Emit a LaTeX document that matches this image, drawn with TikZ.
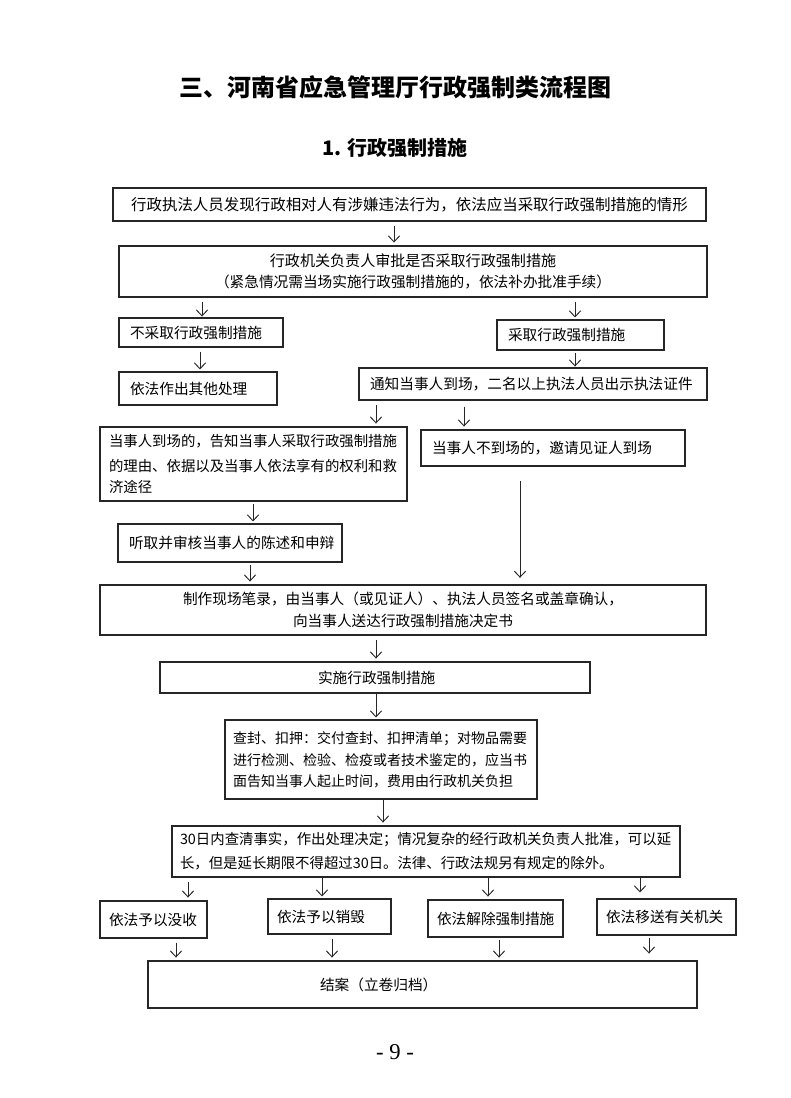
\documentclass[tikz,border=0pt]{standalone}
\usepackage{fontspec}
\setmainfont{Noto Sans CJK SC}
\newfontfamily\numfont{Liberation Serif}
\usetikzlibrary{arrows.meta}
\newcommand\cbox[6]{%
\pgfmathsetmacro\bw{(#4-#2)*0.75}%
\pgfmathsetmacro\bh{(#5-#3)*0.75}%
\node[box, align=center, minimum width=\bw pt, minimum height=\bh pt] (#1) at ({(#2+#4)/2},{(#3+#5)/2}) {#6};}
\newcommand\lbox[7]{%
\pgfmathsetmacro\bw{(#4-#2-2*#6)*0.75}%
\pgfmathsetmacro\bh{(#5-#3)*0.75}%
\pgfmathsetmacro\bi{#6*0.75}%
\node[box, align=left, inner xsep=\bi pt, text width=\bw pt, minimum height=\bh pt] (#1) at ({(#2+#4)/2},{(#3+#5)/2}) {#7};}
\newcommand\conn[5]{\draw[arr, shorten <=#4pt, shorten >=#5pt] (#1.south -| #3,0) -- (#2.north -| #3,0);}
\begin{document}
\begin{tikzpicture}[x=0.75pt,y=-0.75pt,
  box/.style={draw=black!85, line width=0.8pt, inner ysep=0pt, font=\fontsize{11pt}{16pt}\selectfont},
  arr/.style={draw=black!85, line width=0.7pt, -{Straight Barb[length=4.5pt,width=8.5pt]}}]
\useasboundingbox[fill=white] (0,0) rectangle (790,1098);
\node[font=\fontsize{18pt}{20pt}\selectfont\bfseries] (title) at (395,87) {三、河南省应急管理厅行政强制类流程图};
\node[font=\fontsize{15pt}{18pt}\selectfont\bfseries] (sub) at (395,148) {1. 行政强制措施};

\cbox{b1}{113}{188}{706}{221}{\fontsize{11.6pt}{16pt}\selectfont 行政执法人员发现行政相对人有涉嫌违法行为，依法应当采取行政强制措施的情形}
\cbox{b2}{119}{246}{707}{297}{\fontsize{11.3pt}{16pt}\selectfont 行政机关负责人审批是否采取行政强制措施\\（紧急情况需当场实施行政强制措施的，依法补办批准手续）}
\lbox{b3}{119}{318}{283}{347}{11}{不采取行政强制措施}
\lbox{b4}{497}{320}{664}{350}{11}{采取行政强制措施}
\lbox{b5}{119}{372}{277}{405}{11}{依法作出其他处理}
\lbox{b6}{359}{368}{707}{400}{11}{通知当事人到场，二名以上执法人员出示执法证件}
\lbox{b7}{100}{427}{407}{501}{9}{\fontsize{10.8pt}{19pt}\selectfont 当事人到场的，告知当事人采取行政强制措施\\的理由、依据以及当事人依法享有的权利和救\\济途径}
\lbox{b8}{421}{430}{685}{466}{11}{当事人不到场的，邀请见证人到场}
\lbox{b9}{118}{524}{342}{562}{11}{听取并审核当事人的陈述和申辩}
\cbox{b10}{100}{585}{706}{635}{制作现场笔录，由当事人（或见证人）、执法人员签名或盖章确认，\\[1pt]向当事人送达行政强制措施决定书}
\lbox{b11}{160}{662}{590}{693}{158}{实施行政强制措施}
\lbox{b12}{225}{720}{537}{799}{8}{\fontsize{10.5pt}{16.5pt}\selectfont 查封、扣押：交付查封、扣押清单；对物品需要\\进行检测、检验、检疫或者技术鉴定的，应当书\\面告知当事人起止时间，费用由行政机关负担}
\lbox{b13}{172}{826}{680}{877}{8}{\fontsize{10.8pt}{18pt}\selectfont 30日内查清事实，作出处理决定；情况复杂的经行政机关负责人批准，可以延\\[2pt]长，但是延长期限不得超过30日。法律、行政法规另有规定的除外。}
\lbox{b14}{100}{901}{207}{938}{9}{依法予以没收}
\lbox{b15}{268}{899}{391}{934}{9}{依法予以销毁}
\lbox{b16}{428}{900}{563}{937}{9}{依法解除强制措施}
\lbox{b17}{597}{899}{736}{935}{9}{依法移送有关机关}
\lbox{b18}{148}{961}{697}{1008}{172}{结案（立卷归档）}

\conn{b1}{b2}{394}{3}{2.2}
\conn{b2}{b3}{202}{3}{0.7}
\conn{b2}{b4}{575}{3}{1.5}
\conn{b3}{b5}{200}{3}{1.5}
\conn{b4}{b6}{575}{1.5}{0.7}
\conn{b6}{b7}{376}{3.7}{2.2}
\conn{b6}{b8}{464}{4.5}{2.2}
\conn{b7}{b9}{253}{1.5}{1.5}
\conn{b8}{b10}{520}{10.5}{5}
\conn{b9}{b10}{250}{2.2}{2.2}
\conn{b10}{b11}{376}{3.7}{2.2}
\conn{b11}{b12}{376}{0}{1.5}
\conn{b12}{b13}{383}{0.7}{2.2}
\conn{b13}{b14}{188}{3.7}{2.2}
\conn{b13}{b15}{322}{0.7}{1.5}
\conn{b13}{b16}{488}{0.7}{2.2}
\conn{b13}{b17}{640}{0}{4.5}
\conn{b14}{b18}{176}{3}{2.2}
\conn{b15}{b18}{332}{3}{2.2}
\conn{b16}{b18}{499}{2.2}{2.2}
\conn{b17}{b18}{649}{2.2}{5.2}

\node[font=\numfont\fontsize{17pt}{18pt}\selectfont] (page) at (395,1052) {- 9 -};
\end{tikzpicture}
\end{document}
